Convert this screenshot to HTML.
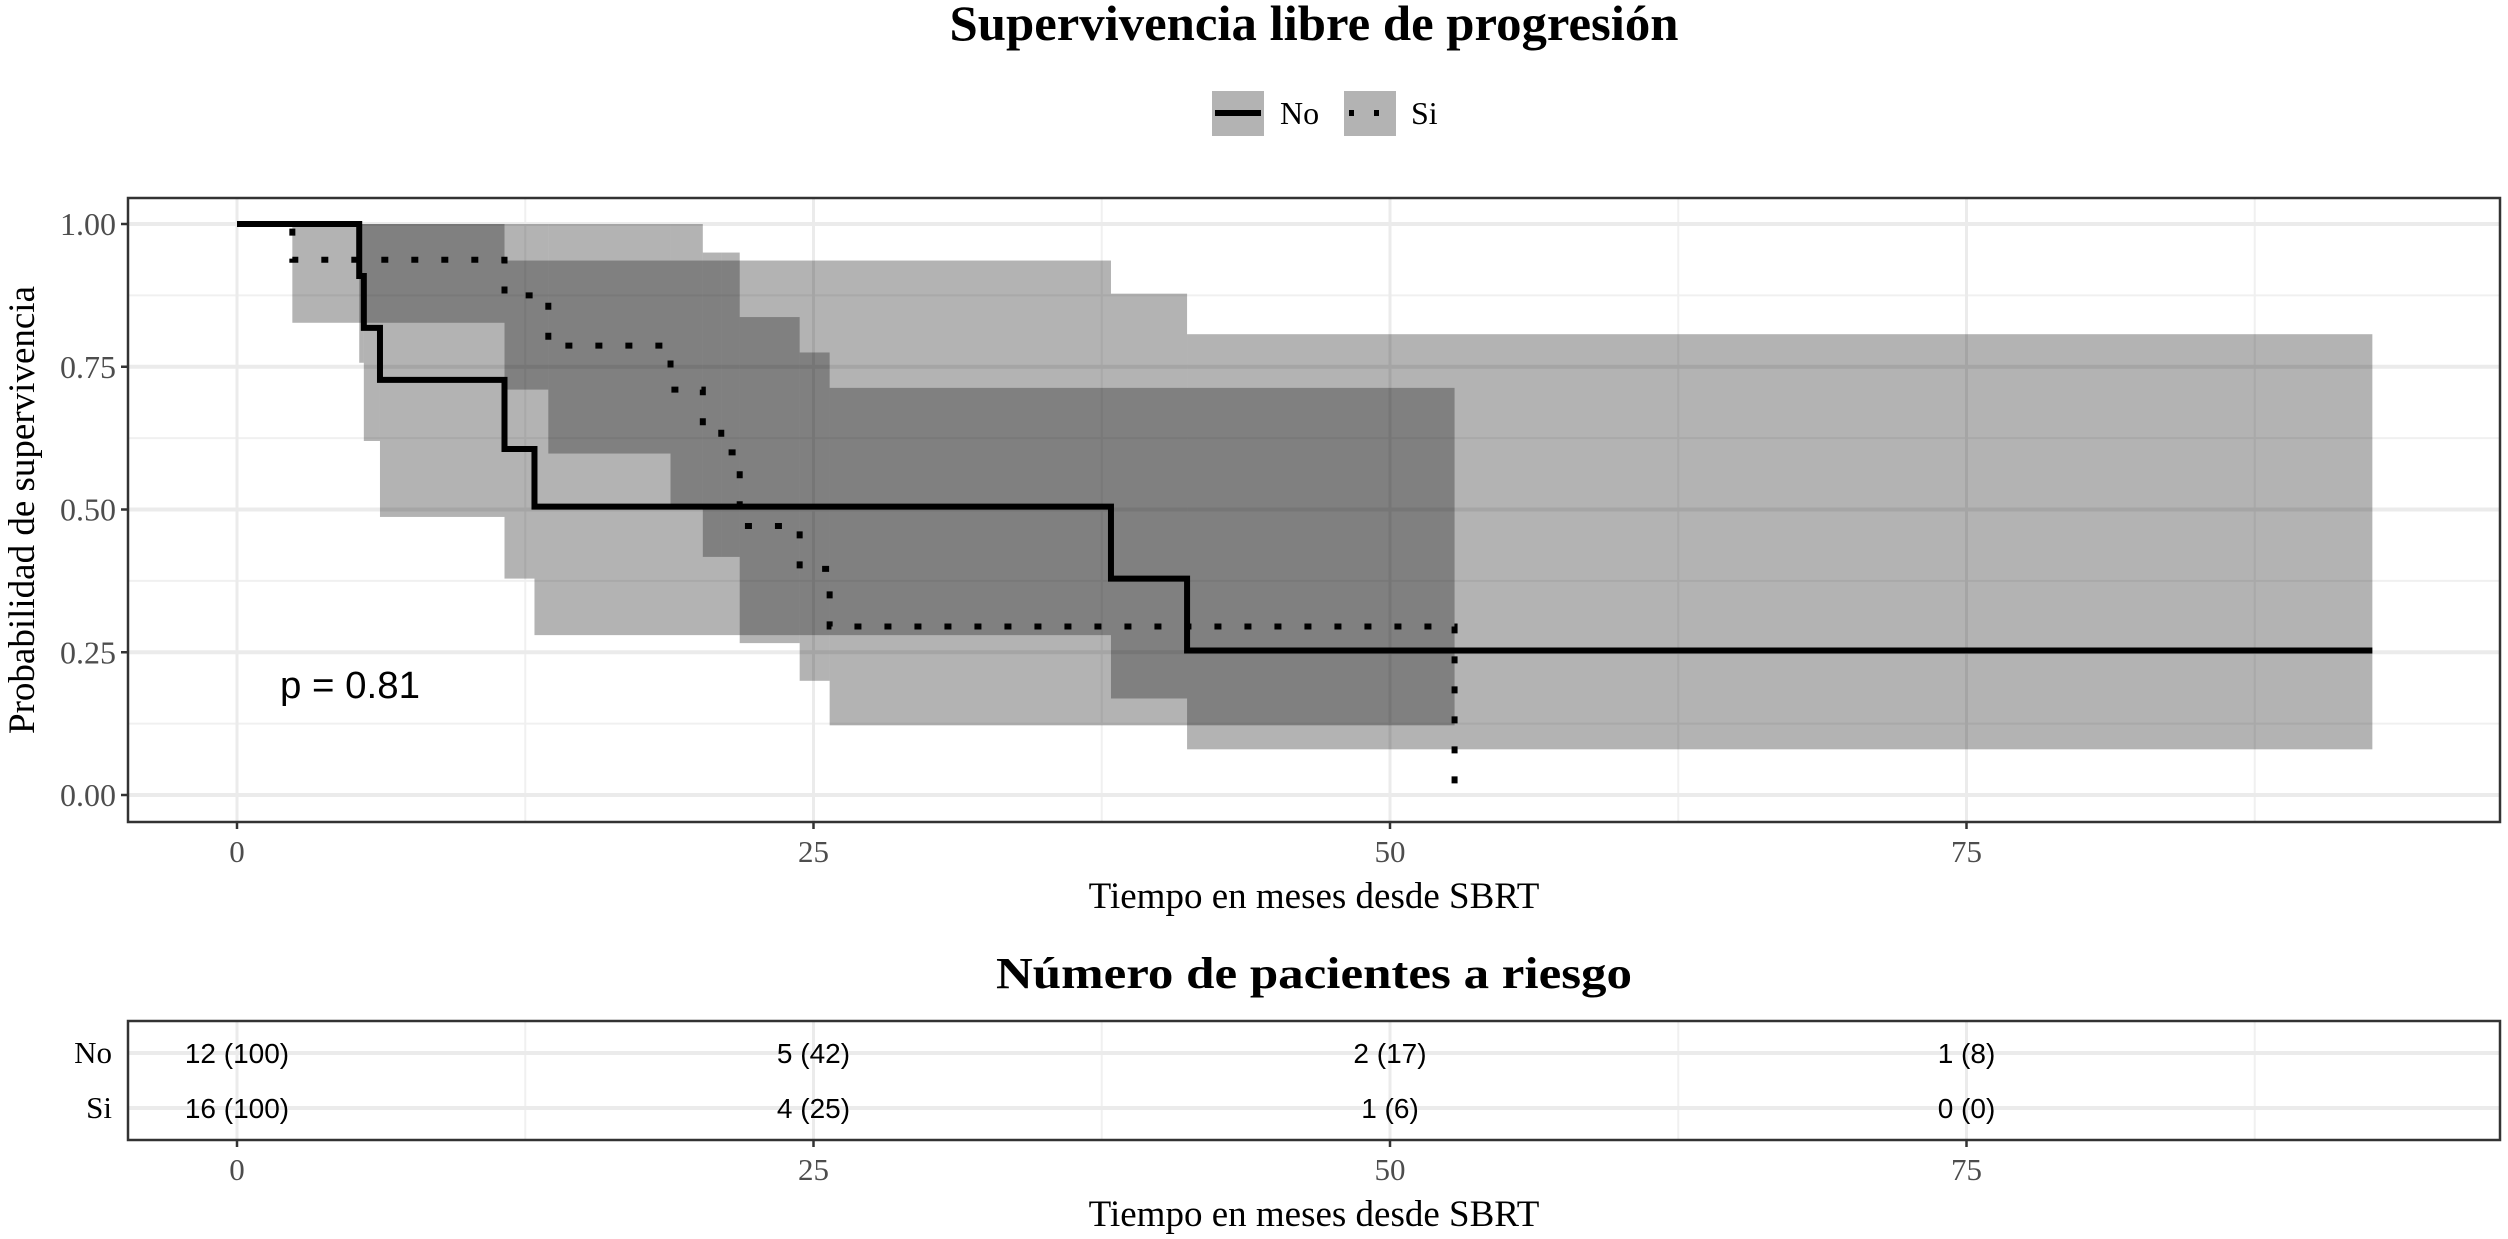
<!DOCTYPE html>
<html><head><meta charset="utf-8"><style>
html,body{margin:0;padding:0;background:#fff;}
svg{display:block;}
</style></head><body>
<svg id="chart" width="2508" height="1239" viewBox="0 0 2508 1239" xmlns="http://www.w3.org/2000/svg">
<text x="1314" y="40" text-anchor="middle" font-family="Liberation Serif, serif" font-weight="bold" font-size="50" textLength="729" lengthAdjust="spacingAndGlyphs">Supervivencia libre de progresión</text>
<g>
<rect x="1212" y="91" width="52" height="45" fill="#b3b3b3"/>
<line x1="1215" y1="113" x2="1261" y2="113" stroke="#000" stroke-width="6"/>
<text x="1280" y="124" font-family="Liberation Serif, serif" font-size="32">No</text>
<rect x="1344" y="91" width="52" height="45" fill="#b3b3b3"/>
<line x1="1349" y1="113" x2="1393" y2="113" stroke="#000" stroke-width="6" stroke-dasharray="5 20"/>
<text x="1411" y="124" font-family="Liberation Serif, serif" font-size="32">Si</text>
</g>
<g id="main"></g>
<g id="risk"></g>
</svg>
<script>
const noTimes=[0,5.3,5.5,6.2,11.6,12.9,37.9,41.2];
const noSurv=[1,0.909,0.818,0.727,0.606,0.505,0.379,0.253];
const noUpper=[1,1,1,1,0.936,0.936,0.878,0.807];
const noLower=[1,0.757,0.62,0.487,0.379,0.28,0.169,0.08];
const noEnd=92.6;
const siTimes=[0,2.4,11.6,13.5,18.8,20.2,21.0,21.8,24.4,25.7,52.8];
const siSurv=[1,0.9375,0.875,0.787,0.71,0.64,0.6,0.471,0.396,0.295,0];
const siUpper=[1,1,1,1,1,0.95,0.95,0.837,0.775,0.713];
const siLower=[1,0.827,0.71,0.598,0.503,0.417,0.417,0.266,0.2,0.122];
const xTicks=[0,25,50,75];
const yTicks=[0,0.25,0.5,0.75,1];
const yTickLabels=["0.00","0.25","0.50","0.75","1.00"];
const riskGroups=["No","Si"];
const riskNo=["12 (100)","5 (42)","2 (17)","1 (8)"];
const riskSi=["16 (100)","4 (25)","1 (6)","0 (0)"];
const pValueLabel="p = 0.81";

const NS="http://www.w3.org/2000/svg";
const X0=237,PX=23.06;
const x=t=>X0+t*PX;
const Y1=224,Y0=795;
const y=s=>Y0-s*(Y0-Y1);
const PL=128,PR=2500,PT=198,PB=822;
function mk(tag,attrs,parent){const e=document.createElementNS(NS,tag);for(const k in attrs)e.setAttribute(k,attrs[k]);parent.appendChild(e);return e;}
const main=document.getElementById('main');
const minorX=[12.5,37.5,62.5,87.5];
minorX.forEach(v=>{const l=mk('line',{x1:x(v),x2:x(v),y1:PT,y2:PB,stroke:'#f0f0f0','stroke-width':2},main);

});
[0.125,0.375,0.625,0.875].forEach(v=>{const l=mk('line',{x1:PL,x2:PR,y1:y(v),y2:y(v),stroke:'#f0f0f0','stroke-width':2},main);

});
xTicks.forEach(v=>{const l=mk('line',{x1:x(v),x2:x(v),y1:PT,y2:PB,stroke:'#ebebeb','stroke-width':3},main);

});
yTicks.forEach(v=>{const l=mk('line',{x1:PL,x2:PR,y1:y(v),y2:y(v),stroke:'#ebebeb','stroke-width':4},main);

});
function band(times,up,lo,end,name){
  for(let i=0;i<up.length;i++){
    const t0=times[i],t1=(i+1<times.length)?times[i+1]:end;
    if(up[i]-lo[i]<=0)continue;
    const r=mk('rect',{x:x(t0),y:y(up[i]),width:x(t1)-x(t0),height:y(lo[i])-y(up[i]),fill:'#191919','fill-opacity':0.33},main);
    
    
  }
}
band(noTimes,noUpper,noLower,noEnd,'ci-band-no');
band(siTimes,siUpper,siLower,siTimes[siTimes.length-1],'ci-band-si');
function step(times,surv,end){
  let d='M'+x(times[0])+' '+y(surv[0]);
  for(let i=1;i<times.length;i++){d+=' H'+x(times[i])+' V'+y(surv[i]);}
  if(end!==undefined)d+=' H'+x(end);
  return d;
}
const pn=mk('path',{d:step(noTimes,noSurv,noEnd),fill:'none',stroke:'#000','stroke-width':6},main);


const ps=mk('path',{d:step(siTimes,siSurv),fill:'none',stroke:'#000','stroke-width':6,'stroke-dasharray':'7 23'},main);


const pv=mk('text',{x:280,y:698,'font-family':'Liberation Sans, sans-serif','font-size':38,textLength:140,lengthAdjust:'spacingAndGlyphs'},main);
pv.textContent=pValueLabel;


const pb=mk('rect',{x:PL,y:PT,width:PR-PL,height:PB-PT,fill:'none',stroke:'#333','stroke-width':2.5},main);


yTicks.forEach((v,i)=>{
  mk('line',{x1:PL-7,x2:PL,y1:y(v),y2:y(v),stroke:'#333','stroke-width':2.5},main);
  const t=mk('text',{x:116,y:y(v)+11,'text-anchor':'end','font-family':'Liberation Serif, serif','font-size':32,fill:'#4d4d4d'},main);
  t.textContent=yTickLabels[i];
  
  
});
xTicks.forEach(v=>{
  mk('line',{x1:x(v),x2:x(v),y1:PB,y2:PB+7,stroke:'#333','stroke-width':2.5},main);
  const t=mk('text',{x:x(v),y:862,'text-anchor':'middle','font-family':'Liberation Serif, serif','font-size':31,fill:'#4d4d4d'},main);
  t.textContent=v;
  
  
});
const xt=mk('text',{x:1314,y:908,'text-anchor':'middle','font-family':'Liberation Serif, serif','font-size':37},main);
xt.textContent='Tiempo en meses desde SBRT';


const yt=mk('text',{x:0,y:0,'text-anchor':'middle','font-family':'Liberation Serif, serif','font-size':37,transform:'translate(34,510) rotate(-90)'},main);
yt.textContent='Probabilidad de supervivencia';



const risk=document.getElementById('risk');
const RT=1021,RB=1140,rowY=[1053,1108];
const rtitle=mk('text',{x:1314,y:988,'text-anchor':'middle','font-family':'Liberation Serif, serif','font-weight':'bold','font-size':44,textLength:636,lengthAdjust:'spacingAndGlyphs'},risk);
rtitle.textContent='Número de pacientes a riesgo';


minorX.forEach(v=>{const l=mk('line',{x1:x(v),x2:x(v),y1:RT,y2:RB,stroke:'#f0f0f0','stroke-width':2},risk);

});
xTicks.forEach(v=>{const l=mk('line',{x1:x(v),x2:x(v),y1:RT,y2:RB,stroke:'#ebebeb','stroke-width':3},risk);

});
rowY.forEach(ry=>{const l=mk('line',{x1:PL,x2:PR,y1:ry,y2:ry,stroke:'#ebebeb','stroke-width':4},risk);

});
[riskNo,riskSi].forEach((row,ri)=>{
  const g=mk('text',{x:112,y:rowY[ri]+10,'text-anchor':'end','font-family':'Liberation Serif, serif','font-size':31},risk);
  g.textContent=riskGroups[ri];
  
  
  row.forEach((s,i)=>{
    const t=mk('text',{x:x(xTicks[i]),y:rowY[ri]+10,'text-anchor':'middle','font-family':'Liberation Sans, sans-serif','font-size':28},risk);
    t.textContent=s;
    
    
  });
});
const rb=mk('rect',{x:PL,y:RT,width:PR-PL,height:RB-RT,fill:'none',stroke:'#333','stroke-width':2.5},risk);


xTicks.forEach(v=>{
  mk('line',{x1:x(v),x2:x(v),y1:RB,y2:RB+7,stroke:'#333','stroke-width':2.5},risk);
  const t=mk('text',{x:x(v),y:1180,'text-anchor':'middle','font-family':'Liberation Serif, serif','font-size':31,fill:'#4d4d4d'},risk);
  t.textContent=v;
  
  
});
const rxt=mk('text',{x:1314,y:1226,'text-anchor':'middle','font-family':'Liberation Serif, serif','font-size':37},risk);
rxt.textContent='Tiempo en meses desde SBRT';


</script>
</body></html>
